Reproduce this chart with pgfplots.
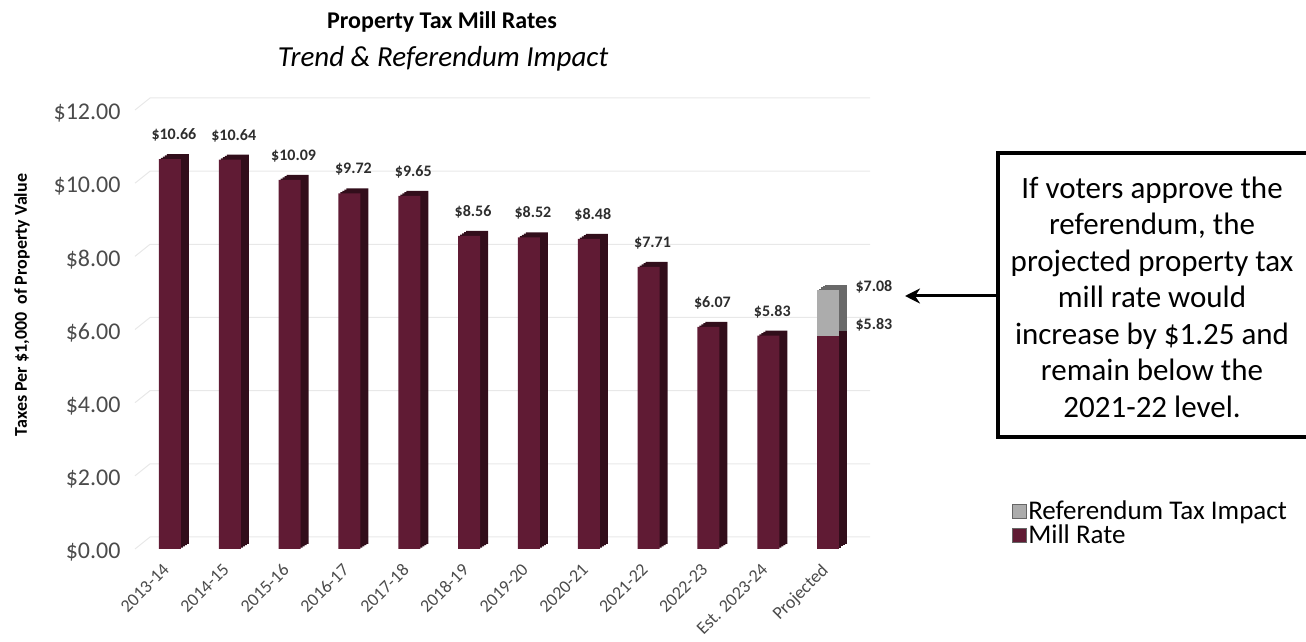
\documentclass[border=0pt]{standalone}
\usepackage{fontspec}
\setmainfont{Carlito}
\usepackage{pgfplots}
\pgfplotsset{compat=1.18}
\usepackage{pgfplotstable}
\usetikzlibrary{arrows.meta}

\definecolor{maroon}{RGB}{96,27,52}
\definecolor{maroondark}{RGB}{50,14,27}
\definecolor{refgray}{RGB}{172,172,172}
\definecolor{refgraydark}{RGB}{105,105,105}
\definecolor{gridgray}{RGB}{232,232,232}
\definecolor{ticktext}{RGB}{75,75,75}
\definecolor{labeltext}{RGB}{45,45,45}

% mill rate per year (x = category index)
\pgfplotstableread{
x mill
0 10.66
1 10.64
2 10.09
3 9.72
4 9.65
5 8.56
6 8.52
7 8.48
8 7.71
9 6.07
10 5.83
}\millrates

% projected year: mill rate and total with referendum impact
\pgfplotstableread{
x mill total
11 5.83 7.08
}\projected

\newcommand{\money}[1]{\$\pgfmathprintnumber[fixed,fixed zerofill,precision=2,assume math mode=true]{#1}}

\begin{document}
\begin{tikzpicture}[x=1pt,y=1pt]
\path[use as bounding box] (0,0) rectangle (1306,642);

\begin{axis}[
  at={(140pt,93pt)}, anchor=south west,
  scale only axis, width=718pt, height=439pt,
  xmin=-0.5, xmax=11.5, ymin=0, ymax=12,
  clip=false,
  axis line style={draw=none},
  major tick length=0pt,
  bar3d/.style={ybar, bar width=22pt, bar shift=0pt, draw=none},
  ytick={0,2,...,12},
  yticklabel={\money{\tick}},
  yticklabel style={font=\fontsize{24}{27}\selectfont, text=ticktext, xshift=-16pt, yshift=-3pt},
  xtick={0,...,11},
  xticklabels={2013-14,2014-15,2015-16,2016-17,2017-18,2018-19,2019-20,2020-21,2021-22,2022-23,Est. 2023-24,Projected},
  xticklabel style={font=\fontsize{18}{20}\selectfont, text=ticktext, xshift=-8pt, yshift=-12pt, rotate=45, anchor=north east, inner sep=1pt},
  nodes near coords={\money{\pgfplotspointmeta}},
  every node near coord/.append style={font=\bfseries\fontsize{16}{18}\selectfont, text=labeltext},
  legend style={at={(axis description cs:1.214,0.115)}, anchor=north west, draw=none, fill=none,
    font=\fontsize{27}{30}\selectfont, row sep=0pt, inner sep=0pt},
  legend cell align=left,
]

% back-wall grid lines
\pgfplotsinvokeforeach{0,2,...,12}{
  \draw[gridgray, line width=1pt] ([xshift=-5pt]axis cs:-0.5,#1) -- ([xshift=10pt,yshift=12pt]axis cs:-0.5,#1) -- ([xshift=12pt,yshift=12pt]axis cs:11.5,#1);
}

% depth faces (shifted copies behind the bars)
\pgfplotsinvokeforeach{1,2,3,4}{
  \addplot[bar3d, fill=refgraydark, xshift=#1*2pt, yshift=#1*1.25pt, forget plot, nodes near coords={}] table[x=x,y=total]{\projected};
  \addplot[bar3d, fill=maroondark, xshift=#1*2pt, yshift=#1*1.25pt, forget plot, nodes near coords={}] table[x=x,y=mill]{\millrates};
  \addplot[bar3d, fill=maroondark, xshift=#1*2pt, yshift=#1*1.25pt, forget plot, nodes near coords={}] table[x=x,y=mill]{\projected};
}

% front faces
\addplot[bar3d, fill=refgray, forget plot,
  every node near coord/.append style={anchor=west, xshift=24pt, yshift=3pt}]
  table[x=x,y=total]{\projected};
\addplot[bar3d, fill=maroon, forget plot,
  every node near coord/.append style={anchor=center, xshift=4pt, yshift=24pt}]
  table[x=x,y=mill]{\millrates};
\addplot[bar3d, fill=maroon, forget plot,
  every node near coord/.append style={anchor=west, xshift=24pt, yshift=11pt}]
  table[x=x,y=mill]{\projected};

\addlegendimage{legend image code/.code={\draw[fill=refgray,draw=black!60] (1pt,-7pt) rectangle (15pt,7pt);}}
\addlegendentry{Referendum Tax Impact}
\addlegendimage{legend image code/.code={\draw[fill=maroon,draw=black!60] (1pt,-7pt) rectangle (15pt,7pt);}}
\addlegendentry{Mill Rate}
\end{axis}

% titles
\node[font=\bfseries\fontsize{24}{28}\selectfont] at (442,620) {Property Tax Mill Rates};
\node[font=\itshape\fontsize{29}{32}\selectfont] at (443,583) {Trend \& Referendum Impact};
\node[rotate=90, font=\bfseries\fontsize{18}{20}\selectfont] at (22,337) {Taxes Per \$1,000\ \ of Property Value};

% callout
\draw[line width=4pt] (998,205) rectangle (1320,489);
\draw[line width=3pt, -{Stealth[length=15pt,width=15pt]}] (998,346) -- (905,346);
\node[align=center, font=\fontsize{31}{36.5}\selectfont] at (1152,345)
  {If voters approve the\\referendum, the\\projected property tax\\mill rate would\\increase by \$1.25 and\\remain below the\\2021-22 level.};
\end{tikzpicture}
\end{document}
